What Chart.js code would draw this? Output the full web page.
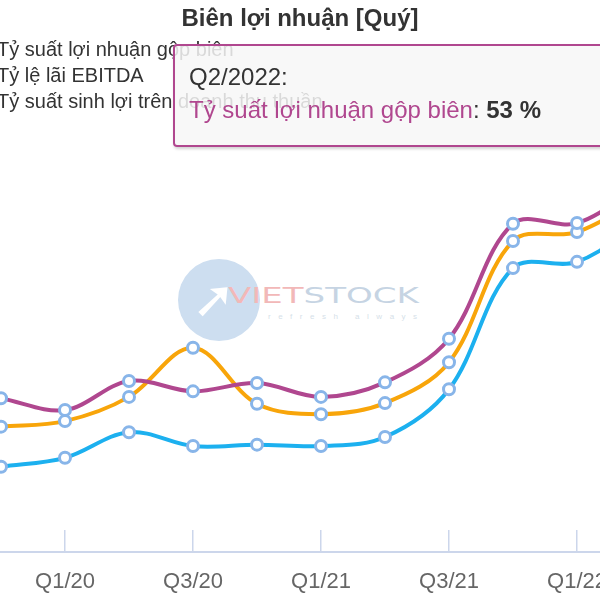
<!DOCTYPE html>
<html>
<head>
<meta charset="utf-8">
<script src="https://cdn.jsdelivr.net/npm/chart.js@4.4.1/dist/chart.umd.min.js"></script>
<style>
  html, body { margin: 0; padding: 0; background: #fff; }
  #wrap { position: relative; width: 600px; height: 600px; overflow: hidden; font-family: "Liberation Sans", Arial, sans-serif; }
  #wm { position: absolute; left: 0; top: 0; width: 600px; height: 600px; }
  #wm .circle { position: absolute; left: 178px; top: 259px; width: 82px; height: 82px; border-radius: 50%; background: #cddef0; }
  #wm .arrow { position: absolute; left: 192px; top: 273px; font-size: 52px; color: #fff; line-height: 1; font-family: "DejaVu Sans", sans-serif; }
  #wm .brand { position: absolute; left: 228px; top: 286px; font-family: "DejaVu Sans", sans-serif; font-size: 21px; color: #c6d4e3; line-height: 1; transform: scaleX(1.62); transform-origin: left top; }
  #wm .brand .r { color: #f2b8b8; }
  #wm .tag { position: absolute; left: 268px; top: 312px; font-size: 8px; letter-spacing: 7.5px; color: #d6dfe9; }
  #chart { position: absolute; left: -100px; top: 0; width: 800px; height: 600px; }
  #legend { position: absolute; left: -3px; top: 36px; font-size: 20px; line-height: 26px; color: #333; white-space: nowrap; }
  #tip { position: absolute; left: 173px; top: 44px; width: 470px; height: 103px; border: 2px solid #b0478f; border-radius: 4px; background: rgba(247,247,247,0.85); box-shadow: 1px 2px 3px rgba(0,0,0,0.18); padding: 14px 0 0 14px; box-sizing: border-box; font-size: 24px; line-height: 33px; color: #333; white-space: nowrap; display: none; }
  #tip b { font-weight: bold; color: #333; }
</style>
</head>
<body>
<div id="wrap">
  <div id="wm">
    <div class="circle"></div>
    <div class="arrow">➚</div>
    <div class="brand"><span class="r">VIET</span>STOCK</div>
    <div class="tag">refresh always</div>
  </div>
  <canvas id="chart" width="800" height="600"></canvas>
  <div id="legend"></div>
  <div id="tip"></div>
</div>
<script>
// ---- data ----
const quarters = ['Q4/2019','Q1/2020','Q2/2020','Q3/2020','Q4/2020','Q1/2021','Q2/2021','Q3/2021','Q4/2021','Q1/2022','Q2/2022'];
const axisLabels = ['Q4/19','Q1/20','Q2/20','Q3/20','Q4/20','Q1/21','Q2/21','Q3/21','Q4/21','Q1/22','Q2/22'];
const shownTickIndexes = [1, 3, 5, 7, 9];
const seriesNames = ['Tỷ suất lợi nhuận gộp biên', 'Tỷ lệ lãi EBITDA', 'Tỷ suất sinh lợi trên doanh thu thuần'];
const grossMargin = [22.2, 20.5, 24.7, 23.2, 24.4, 22.4, 24.5, 30.8, 47.4, 47.5, 53];
const ebitdaMargin = [18.1, 18.9, 22.4, 29.5, 21.4, 19.9, 21.5, 27.4, 44.9, 46.2, 51];
const netMargin = [12.3, 13.6, 17.3, 15.3, 15.5, 15.3, 16.6, 23.5, 41.0, 41.9, 47.5];
const seriesColors = ['#b0478f', '#f8a50a', '#1cb0ef'];
const tooltipSeries = 0;
const tooltipIndex = 10;

const allSeries = [grossMargin, ebitdaMargin, netMargin];
const datasets = allSeries.map((vals, s) => ({
  label: seriesNames[s],
  data: vals.map((v, i) => ({ x: i, y: v })),
  borderColor: seriesColors[s],
  backgroundColor: seriesColors[s],
  borderWidth: 4,
  tension: 0.35,
  pointRadius: 5.5,
  pointBorderWidth: 3,
  pointBorderColor: '#88b5e9',
  pointBackgroundColor: '#ffffff',
  fill: false
}));

// HTML legend from series names
document.getElementById('legend').innerHTML = seriesNames.map(n => '<div>' + n + '</div>').join('');

function externalTip(ctx) {
  const el = document.getElementById('tip');
  const t = ctx.tooltip;
  if (!t.dataPoints || !t.dataPoints.length) { el.style.display = 'none'; return; }
  const dp = t.dataPoints[0];
  const color = seriesColors[dp.datasetIndex];
  el.style.borderColor = color;
  el.innerHTML = '<div>' + quarters[dp.dataIndex] + ':</div>' +
    '<div><span style="color:' + color + '">' + dp.dataset.label + '</span>: <b>' + dp.raw.y + ' %</b></div>';
  el.style.display = 'block';
}

const chart = new Chart(document.getElementById('chart'), {
  type: 'line',
  data: { datasets },
  options: {
    responsive: false,
    animation: false,
    events: [],
    layout: { padding: 0, autoPadding: false },
    plugins: {
      legend: { display: false },
      title: {
        display: true,
        text: 'Biên lợi nhuận [Quý]',
        color: '#333',
        font: { family: '"Liberation Sans", Arial, sans-serif', size: 24, weight: 'bold' },
        padding: { top: 5, bottom: 19 }
      },
      tooltip: { enabled: false, external: externalTip }
    },
    scales: {
      x: {
        type: 'linear',
        min: -101 / 64,
        max: 699 / 64,
        afterBuildTicks: (scale) => { scale.ticks = shownTickIndexes.map(v => ({ value: v })); },
        afterFit: (scale) => { scale.height = 48; },
        ticks: {
          callback: (v) => axisLabels[v],
          color: '#666',
          font: { family: '"Liberation Sans", Arial, sans-serif', size: 22 },
          padding: 39,
          maxRotation: 0,
          autoSkip: false
        },
        grid: { display: true, drawOnChartArea: false, drawTicks: true, tickLength: -22, color: '#ccd6eb', lineWidth: 1.5 },
        border: { display: true, color: '#ccd6eb', width: 2 }
      },
      y: {
        display: false,
        min: 0,
        max: (552 - 52.8) / 6.925
      }
    }
  }
});

chart.tooltip.setActiveElements([{ datasetIndex: tooltipSeries, index: tooltipIndex }], { x: 0, y: 0 });
chart.update('none');
</script>
</body>
</html>
